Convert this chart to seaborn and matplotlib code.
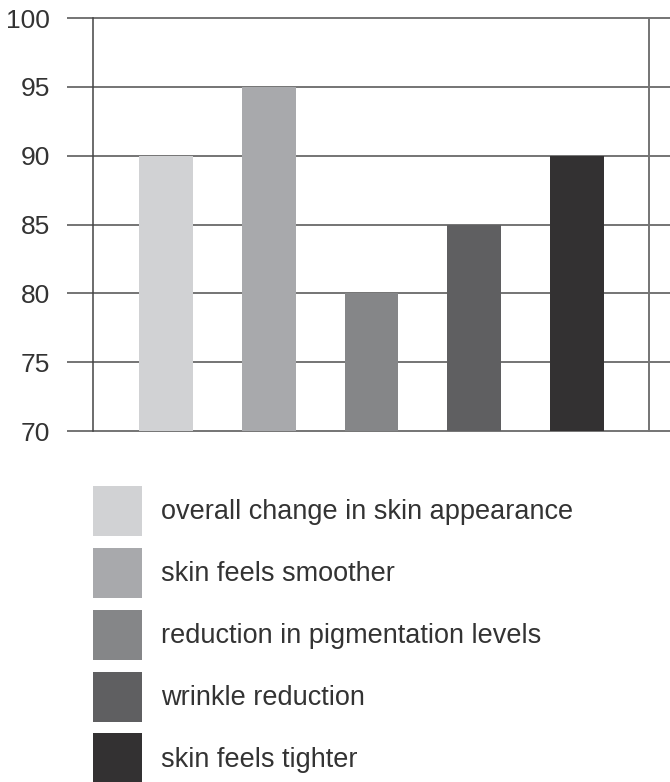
import matplotlib
matplotlib.use("Agg")
import matplotlib.pyplot as plt
import seaborn as sns
import pandas as pd

categories = [
    "overall change in skin appearance",
    "skin feels smoother",
    "reduction in pigmentation levels",
    "wrinkle reduction",
    "skin feels tighter",
]
values = [90, 95, 80, 85, 90]
colors = ["#d1d2d4", "#a8a9ac", "#858688", "#5f5f61", "#333132"]
yticks = [70, 75, 80, 85, 90, 95, 100]

sns.set_theme(style="white")
plt.rcParams["font.family"] = ["Liberation Sans", "DejaVu Sans"]

W, H = 670, 782
fig = plt.figure(figsize=(W / 100, H / 100), dpi=100)
ax = fig.add_axes([93 / W, 1 - 431 / H, 556 / W, 413 / H])

df = pd.DataFrame({"category": categories, "value": values})
sns.barplot(data=df, x="category", y="value", hue="category",
            palette=colors, width=0.525, ax=ax, legend=True,
            saturation=1, zorder=2, linewidth=0, edgecolor="none")

line_c = "#747474"
ax.set_xlim(-0.71, 4.70)
ax.set_ylim(70, 100)
ax.set_xticks([])
ax.set_yticks(yticks)
ax.set_xlabel("")
ax.set_ylabel("")
for s in ["top", "bottom"]:
    ax.spines[s].set_visible(False)
ax.spines["left"].set_visible(True)
ax.spines["left"].set_color("#444444")
ax.spines["left"].set_linewidth(1.1)
ax.spines["right"].set_visible(True)
ax.spines["right"].set_color(line_c)
ax.spines["right"].set_linewidth(1.4)
ax.hlines(yticks, -26 / 556, 1 + 22 / 556, transform=ax.get_yaxis_transform(),
          colors=line_c, linewidth=1.4, clip_on=False, zorder=1)
ax.tick_params(axis="y", length=0, pad=31, labelsize=19, labelcolor="#333333")

sns.move_legend(ax, loc="upper left", bbox_to_anchor=(93 / W, 1 - 486 / H),
                bbox_transform=fig.transFigure, frameon=False, title=None,
                fontsize=19.5, handlelength=1.81, handleheight=2.46,
                labelspacing=0.44, handletextpad=0.7, borderpad=0,
                borderaxespad=0)
leg = ax.get_legend()
for t in leg.get_texts():
    t.set_color("#333333")
for p in leg.get_patches():
    p.set_linewidth(0)

fig.savefig("out.png", dpi=100)
